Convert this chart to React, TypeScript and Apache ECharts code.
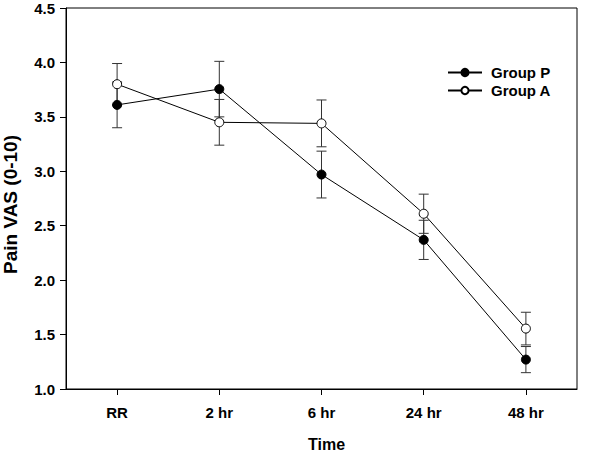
import React, { useEffect, useRef } from "react";
import * as echarts from "echarts";

const categories = ["RR", "2 hr", "6 hr", "24 hr", "48 hr"];
const groupPMean = [3.61, 3.755, 2.97, 2.37, 1.27];
const groupPErr = [0.21, 0.255, 0.215, 0.18, 0.12];
const groupAMean = [3.8, 3.45, 3.44, 2.61, 1.555];
const groupAErr = [0.19, 0.21, 0.215, 0.18, 0.15];
const yTicks = { min: 1.0, max: 4.5, interval: 0.5 };

const FONT = "'Liberation Sans', Arial, sans-serif";

function errData(mean: number[], err: number[]) {
  return mean.map((m, i) => [i, m - err[i], m + err[i]]);
}

function errorSeries(name: string, mean: number[], err: number[]) {
  return {
    type: "custom",
    name: name + " err",
    z: 1,
    silent: true,
    data: errData(mean, err),
    encode: { x: 0, y: [1, 2] },
    renderItem: (params: any, api: any) => {
      const x = api.value(0);
      const lo = api.coord([x, api.value(1)]);
      const hi = api.coord([x, api.value(2)]);
      const hw = 5;
      const style = { stroke: "#333", lineWidth: 1, fill: null };
      return {
        type: "group",
        children: [
          { type: "line", shape: { x1: lo[0], y1: lo[1], x2: hi[0], y2: hi[1] }, style },
          { type: "line", shape: { x1: lo[0] - hw, y1: lo[1], x2: lo[0] + hw, y2: lo[1] }, style },
          { type: "line", shape: { x1: hi[0] - hw, y1: hi[1], x2: hi[0] + hw, y2: hi[1] }, style },
        ],
      };
    },
  };
}

export default function App() {
  const ref = useRef<HTMLDivElement>(null);
  useEffect(() => {
    if (!ref.current) return;
    const chart = echarts.init(ref.current, undefined, { renderer: "svg" });
    chart.setOption({
      animation: false,
      backgroundColor: "#fff",
      grid: {
        left: 66,
        right: 23,
        top: 8,
        bottom: 63,
        containLabel: false,
        outerBoundsMode: "none",
        show: true,
        borderColor: "#000",
        borderWidth: 1,
        backgroundColor: "transparent",
      },
      legend: {
        orient: "vertical",
        left: 442,
        top: 60,
        padding: 5,
        itemWidth: 34,
        itemHeight: 9,
        itemGap: 3,
        data: ["Group P", "Group A"],
        textStyle: {
          fontFamily: FONT,
          fontWeight: "bold",
          fontSize: 15,
          color: "#000",
          padding: [0, 0, 0, 4],
        },
      },
      xAxis: {
        type: "category",
        data: categories,
        boundaryGap: true,
        name: "Time",
        nameLocation: "middle",
        nameGap: 47,
        nameTextStyle: {
          fontFamily: FONT,
          fontWeight: "bold",
          fontSize: 16,
          color: "#000",
          padding: [0, 0, 0, 10],
        },
        axisLine: { show: true, lineStyle: { color: "#000", width: 1 } },
        axisTick: { show: true, alignWithLabel: true, length: 6, lineStyle: { color: "#000" } },
        axisLabel: {
          fontFamily: FONT,
          fontWeight: "bold",
          fontSize: 15,
          color: "#000",
          margin: 16,
        },
        splitLine: { show: false },
      },
      yAxis: {
        type: "value",
        min: yTicks.min,
        max: yTicks.max,
        interval: yTicks.interval,
        name: "Pain VAS (0-10)",
        nameLocation: "middle",
        nameGap: 46,
        nameTextStyle: {
          fontFamily: FONT,
          fontWeight: "bold",
          fontSize: 19,
          color: "#000",
          padding: [0, 12, 0, 0],
        },
        axisLine: { show: true, lineStyle: { color: "#000", width: 1 } },
        axisTick: { show: true, length: 6, lineStyle: { color: "#000" } },
        axisLabel: {
          fontFamily: FONT,
          fontWeight: "bold",
          fontSize: 15,
          color: "#000",
          margin: 11,
          formatter: (v: number) => v.toFixed(1),
        },
        splitLine: { show: false },
      },
      series: [
        errorSeries("Group P", groupPMean, groupPErr),
        errorSeries("Group A", groupAMean, groupAErr),
        {
          type: "line",
          name: "Group P",
          data: groupPMean,
          z: 3,
          symbol: "circle",
          symbolSize: 9,
          lineStyle: { color: "#000", width: 1 },
          itemStyle: { color: "#000", borderColor: "#000", borderWidth: 1 },
        },
        {
          type: "line",
          name: "Group A",
          data: groupAMean,
          z: 4,
          symbol: "circle",
          symbolSize: 9,
          lineStyle: { color: "#000", width: 1 },
          itemStyle: { color: "#fff", borderColor: "#000", borderWidth: 1 },
        },
      ],
    });
    return () => chart.dispose();
  }, []);
  return <div ref={ref} style={{ width: 600, height: 452, position: "absolute", left: 0, top: 0 }} />;
}
